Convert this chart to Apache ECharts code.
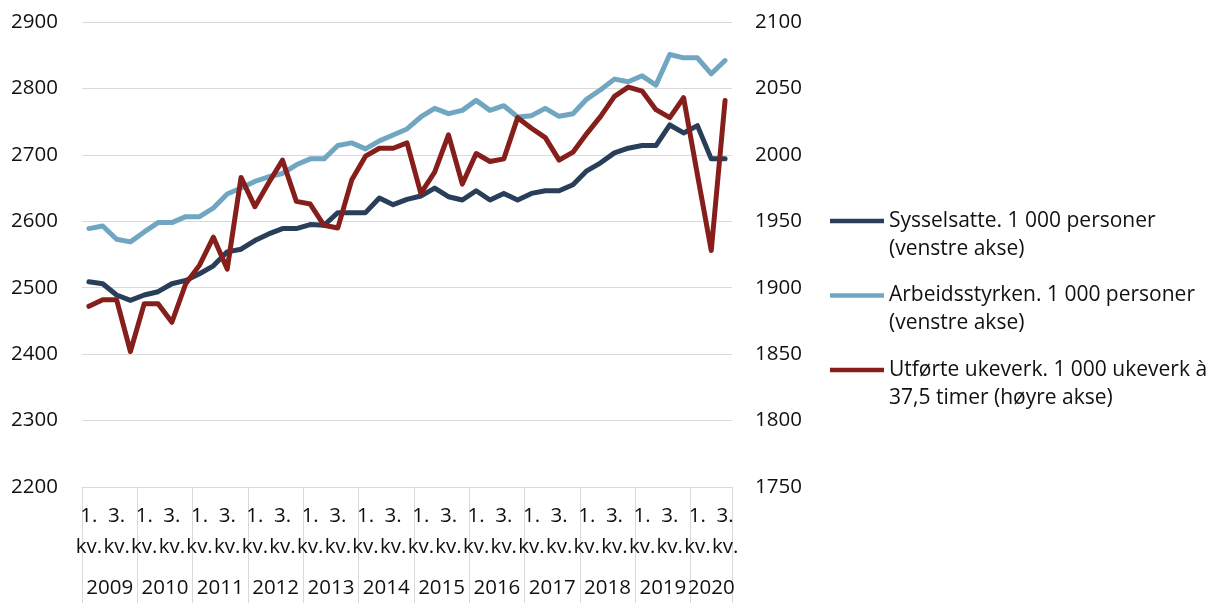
<!DOCTYPE html>
<html>
<head>
<meta charset="utf-8">
<script src="https://cdn.jsdelivr.net/npm/echarts@6/dist/echarts.min.js"></script>
<style>
  html, body { margin: 0; padding: 0; background: #fff; }
  #main { width: 1214px; height: 603px; }
</style>
</head>
<body>
<div id="main"></div>
<script>
// år og kvartaler på x-aksen (data går til 3. kv. 2020)
var aar = [2009, 2010, 2011, 2012, 2013, 2014, 2015, 2016, 2017, 2018, 2019, 2020];
var kvartal = ['1.\nkv.', '2.\nkv.', '3.\nkv.', '4.\nkv.'];

// 1 000 personer, venstre akse
var sysselsatte = [2509, 2506, 2489, 2481, 2489, 2494, 2506, 2511, 2521, 2533, 2554, 2558,
  2571, 2581, 2589, 2589, 2595, 2594, 2613, 2613, 2613, 2635, 2625, 2633,
  2638, 2650, 2637, 2632, 2646, 2632, 2642, 2632, 2642, 2646, 2646, 2655,
  2676, 2688, 2703, 2710, 2714, 2714, 2745, 2733, 2744, 2694, 2694];
var arbeidsstyrken = [2589, 2593, 2573, 2569, 2584, 2598, 2598, 2607, 2607, 2620, 2641, 2650,
  2660, 2667, 2672, 2685, 2694, 2694, 2714, 2718, 2709, 2721, 2730, 2739,
  2757, 2770, 2762, 2767, 2782, 2767, 2774, 2757, 2759, 2770, 2758, 2762,
  2784, 2798, 2814, 2810, 2819, 2805, 2851, 2846, 2846, 2822, 2842];
// 1 000 ukeverk, høyre akse
var ukeverk = [1886, 1891, 1891, 1852, 1888, 1888, 1874, 1903, 1917, 1938, 1914, 1983,
  1961, 1979, 1996, 1965, 1963, 1947, 1945, 1981, 1999, 2005, 2005, 2009,
  1971, 1987, 2015, 1978, 2001, 1995, 1997, 2028, 2020, 2013, 1996, 2002,
  2016, 2029, 2044, 2051, 2048, 2034, 2028, 2043, 1985, 1928, 2041];

var navn = [
  'Sysselsatte. 1 000 personer\n(venstre akse)',
  'Arbeidsstyrken. 1 000 personer\n(venstre akse)',
  'Utførte ukeverk. 1 000 ukeverk à\n37,5 timer (høyre akse)'
];
var farger = ['#283e59', '#71a6c3', '#861f1c'];

var venstreAkse = { min: 2200, max: 2900, interval: 100 };
var hoyreAkse = { min: 1750, max: 2100, interval: 50 };

var n = sysselsatte.length;
var kategorier = [];
aar.forEach(function (a) {
  kvartal.forEach(function (k, j) {
    if (kategorier.length < n) kategorier.push(a + '|' + j);
  });
});

// årsskiller og midtpunkt for årstallene
var skiller = [];
var midt = [];
aar.forEach(function (a, i) {
  var start = i * 4, slutt = Math.min(start + 4, n);
  skiller.push(start);
  midt.push((start + slutt) / 2);
});
skiller.push(n);

var font = 'Open Sans';
var tekst = { fontFamily: font, fontSize: 20.5, color: '#111' };

var myChart = echarts.init(document.getElementById('main'));
var option = {
  animation: false,
  color: farger,
  grid: { left: 82, right: 482, top: 22, bottom: 116 },
  legend: {
    orient: 'vertical',
    left: 830,
    top: 207,
    padding: 0,
    itemWidth: 54,
    itemHeight: 32.5,
    itemGap: 18.5,
    icon: 'path://M0,0L54,0L54,4.5L0,4.5Z M0,32.5L0,32.5Z',
    itemStyle: { borderWidth: 0 },
    textStyle: { fontFamily: font, fontSize: 21, lineHeight: 28, color: '#111' },
    data: navn
  },
  xAxis: [{
    type: 'category',
    data: kategorier,
    boundaryGap: true,
    axisLine: { lineStyle: { color: '#d9d9d9', width: 1 } },
    axisTick: { show: false },
    axisLabel: Object.assign({
      interval: function (i) { return i % 2 === 0; },
      lineHeight: 31,
      margin: 14,
      formatter: function (v) { return kvartal[+v.split('|')[1]]; }
    }, tekst)
  }, {
    type: 'value',
    min: 0,
    max: n,
    position: 'bottom',
    axisLine: { show: false },
    splitLine: { show: false },
    axisTick: {
      show: true,
      customValues: skiller,
      length: 116,
      lineStyle: { color: '#d9d9d9', width: 1 }
    },
    axisLabel: Object.assign({
      customValues: midt,
      margin: 91,
      formatter: function (v) { return String(aar[midt.indexOf(v)]); }
    }, tekst)
  }],
  yAxis: [{
    type: 'value',
    min: venstreAkse.min,
    max: venstreAkse.max,
    interval: venstreAkse.interval,
    axisLine: { show: false },
    axisTick: { show: false },
    splitLine: { lineStyle: { color: '#d9d9d9', width: 1 } },
    axisLabel: Object.assign({ margin: 24, formatter: function (v) { return String(v); } }, tekst)
  }, {
    type: 'value',
    min: hoyreAkse.min,
    max: hoyreAkse.max,
    interval: hoyreAkse.interval,
    position: 'right',
    axisLine: { show: false },
    axisTick: { show: false },
    splitLine: { show: false },
    axisLabel: Object.assign({ margin: 23, formatter: function (v) { return String(v); } }, tekst)
  }],
  series: [{
    name: navn[0],
    type: 'line',
    data: sysselsatte,
    symbol: 'none',
    lineStyle: { width: 5, cap: 'round', join: 'round' }
  }, {
    name: navn[1],
    type: 'line',
    data: arbeidsstyrken,
    symbol: 'none',
    lineStyle: { width: 5, cap: 'round', join: 'round' }
  }, {
    name: navn[2],
    type: 'line',
    yAxisIndex: 1,
    data: ukeverk,
    symbol: 'none',
    lineStyle: { width: 5, cap: 'round', join: 'round' }
  }]
};
myChart.setOption(option);
</script>
</body>
</html>
